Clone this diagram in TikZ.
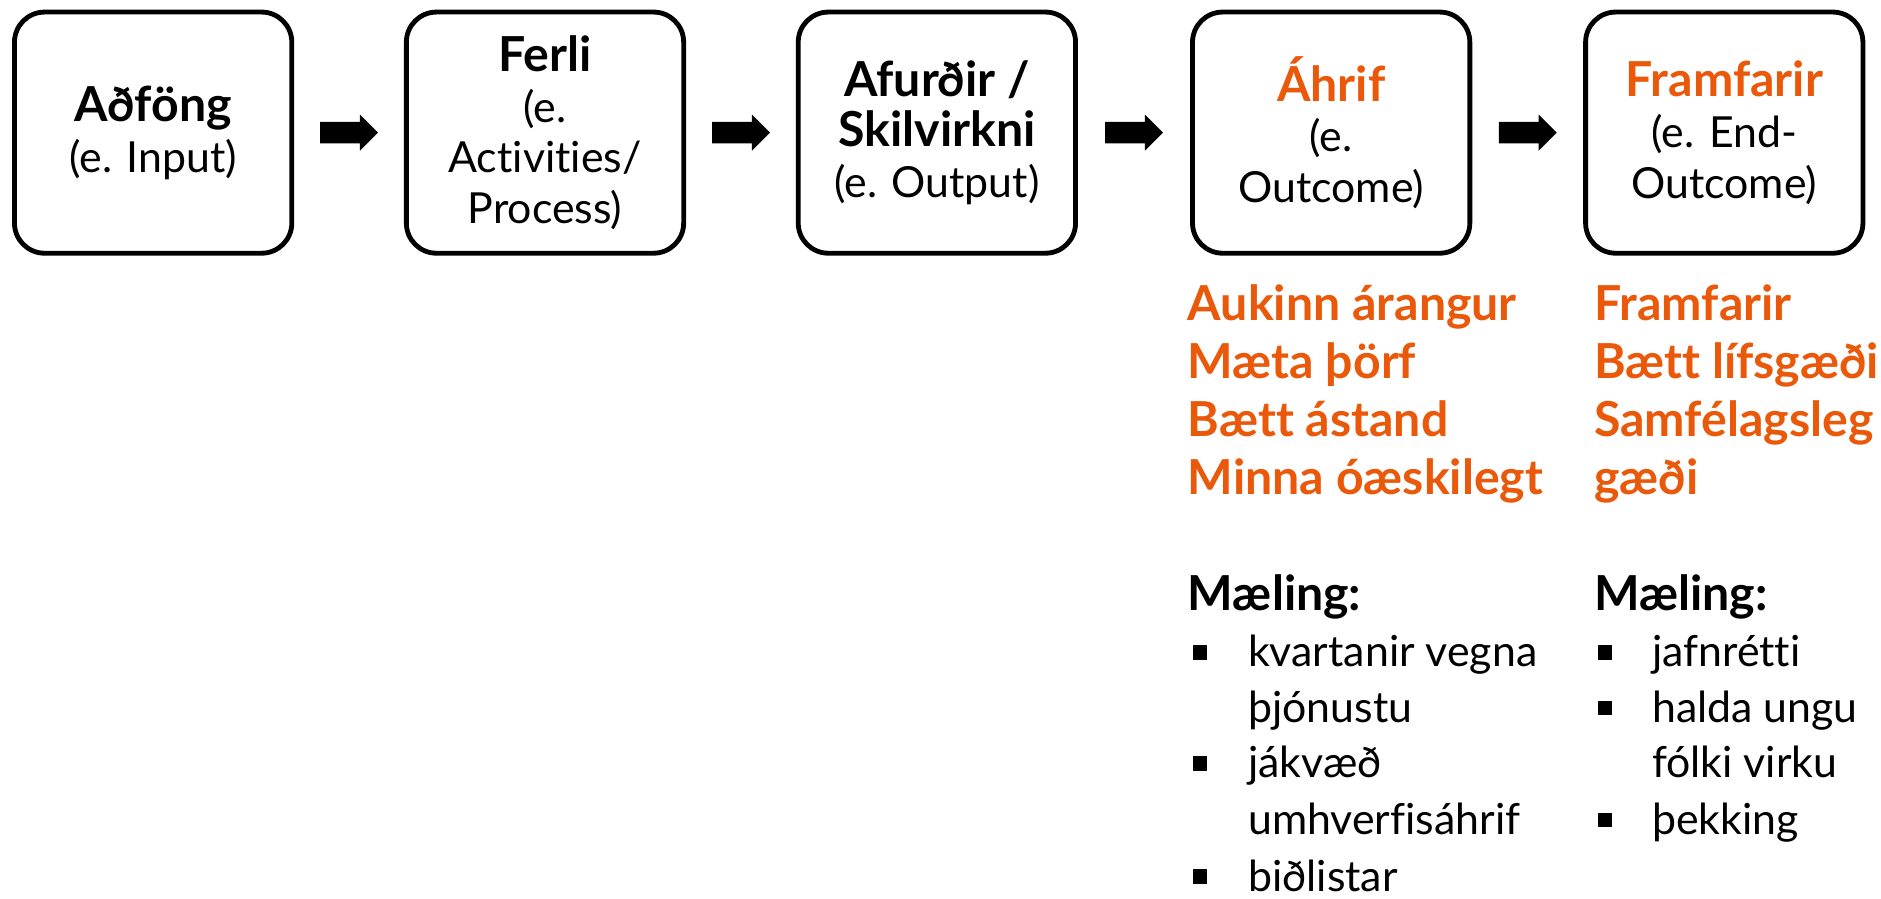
\documentclass[tikz,border=0pt]{standalone}
\usepackage{fontspec}
\setmainfont{Lato}[Ligatures=NoCommon]
\usetikzlibrary{calc}
\definecolor{orng}{RGB}{234,88,10}
\newcommand{\bx}[1]{{\fontsize{40}{42}\selectfont\bfseries #1}}
\tikzset{
  box/.style={draw=black, line width=4pt, rounded corners=25pt, minimum width=230pt, minimum height=200pt, align=center, inner sep=0pt, font=\fontsize{35.5}{42}\selectfont},
  otxt/.style={anchor=base west, inner sep=0pt, text=orng, font=\fontsize{40}{40}\selectfont\bfseries},
  btxt/.style={anchor=base west, inner sep=0pt, font=\fontsize{35.5}{40}\selectfont},
  bhead/.style={anchor=base west, inner sep=0pt, font=\fontsize{40}{40}\selectfont\bfseries},
  sq/.style={fill=black, draw=none, minimum size=12pt, inner sep=0pt},
  blockarrow/.style={fill=black}
}
\begin{document}
\begin{tikzpicture}[x=1pt,y=-1pt]
\useasboundingbox (0,0) rectangle (1560,745);
% boxes
\node[box] (b1) at (127,110) {\bx{Aðföng}\\(e. Input)};
\node[box] (b2) at (452,110) {\bx{Ferli}\\(e.\\Activities/\\Process)};
\node[box] (b3) at (777,110) {\bx{Afurðir /}\\\bx{Skilvirkni}\\(e. Output)};
\node[box] (b4) at (1104,110) {\textcolor{orng}{\bx{Áhrif}}\\(e.\\Outcome)};
\node[box] (b5) at (1430,110) {\textcolor{orng}{\bx{Framfarir}}\\(e. End-\\Outcome)};
% block arrows between boxes
\coordinate (a1) at ($(b1.east)!0.5!(b2.west)$);
\coordinate (a2) at ($(b2.east)!0.5!(b3.west)$);
\coordinate (a3) at ($(b3.east)!0.5!(b4.west)$);
\coordinate (a4) at ($(b4.east)!0.5!(b5.west)$);
\foreach \a in {a1,a2,a3,a4}{
  \fill[blockarrow] (\a) ++(-24,-9) -- ++(33,0) -- ++(0,-6) -- ++(15,15) -- ++(-15,15) -- ++(0,-6) -- ++(-33,0) -- cycle;
}
% orange lists
\node[otxt] (o1) at (985,266) {Aukinn árangur};
\node[otxt] (o2) at (985,314) {Mæta þörf};
\node[otxt] (o3) at (985,362) {Bætt ástand};
\node[otxt] (o4) at (985,410) {Minna óæskilegt};
\node[otxt] (p1) at (1322,266) {Framfarir};
\node[otxt] (p2) at (1322,314) {Bætt lífsgæði};
\node[otxt] (p3) at (1322,362) {Samfélagsleg};
\node[otxt] (p4) at (1322,410) {gæði};
% measurement headers
\node[bhead] (m1) at (985,506) {Mæling:};
\node[bhead] (m2) at (1322,506) {Mæling:};
% bullets column 1
\node[sq] (s1) at (995,541) {};
\node[btxt] (t1) at (1035,553) {kvartanir vegna};
\node[btxt] (t2) at (1035,599) {þjónustu};
\node[sq] (s2) at (995,633) {};
\node[btxt] (t3) at (1035,645) {jákvæð};
\node[btxt] (t4) at (1035,692) {umhverfisáhrif};
\node[sq] (s3) at (995,727) {};
\node[btxt] (t5) at (1035,739) {biðlistar};
% bullets column 2
\node[sq] (s4) at (1331,541) {};
\node[btxt] (u1) at (1370,553) {jafnrétti};
\node[sq] (s5) at (1331,587) {};
\node[btxt] (u2) at (1370,599) {halda ungu};
\node[btxt] (u3) at (1370,645) {fólki virku};
\node[sq] (s6) at (1331,680) {};
\node[btxt] (u4) at (1370,692) {þekking};
\end{tikzpicture}
\end{document}
